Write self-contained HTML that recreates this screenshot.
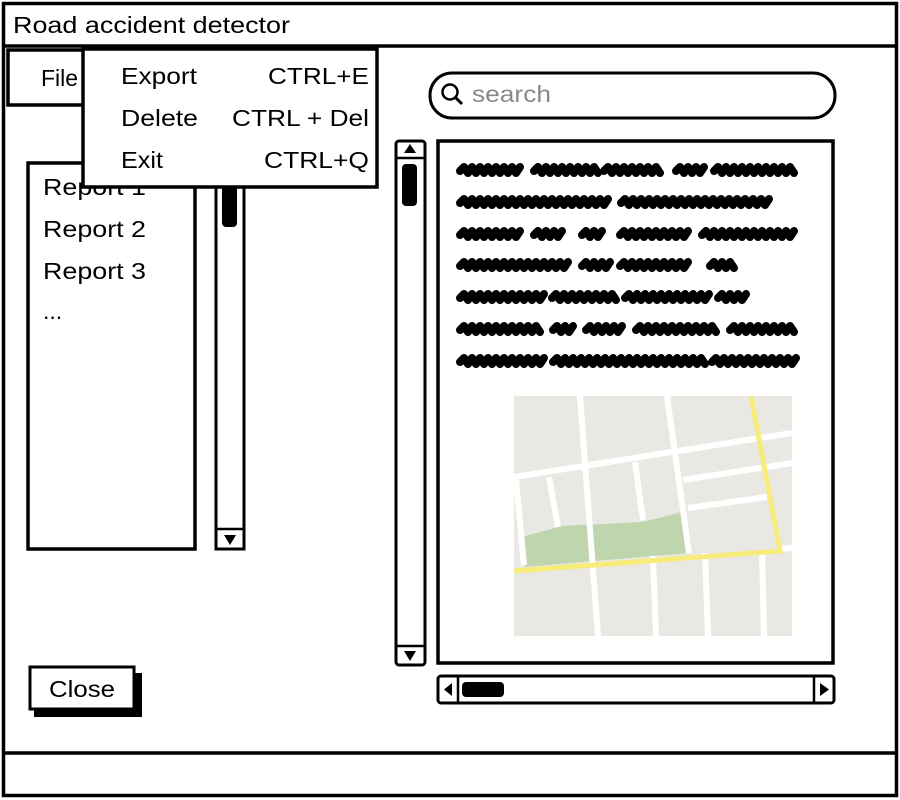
<!DOCTYPE html>
<html><head><meta charset="utf-8"><style>
html,body{margin:0;padding:0;background:#fff;}
svg{display:block;}
text{font-family:"Liberation Sans",sans-serif;fill:#000;}
</style></head><body>
<svg id="s" width="900" height="800" viewBox="0 0 900 800" xmlns="http://www.w3.org/2000/svg">
<g>
<rect x="3.5" y="3.5" width="893" height="792" fill="#fff" stroke="#000" stroke-width="3.5"/>
<line x1="3" y1="46" x2="897" y2="46" stroke="#000" stroke-width="3.5"/>
<line x1="3" y1="753" x2="897" y2="753" stroke="#000" stroke-width="3.5"/>
<text x="13" y="33" font-size="23" textLength="277" lengthAdjust="spacingAndGlyphs">Road accident detector</text>
</g>
<g>
<rect x="8" y="50" width="82" height="55" fill="#fff" stroke="#000" stroke-width="3.5"/>
<text x="41" y="86" font-size="23">File</text>
</g>
<g>
<rect x="28" y="163" width="167" height="386" fill="#fff" stroke="#000" stroke-width="3.5"/>
<text x="43" y="195" font-size="23" textLength="103" lengthAdjust="spacingAndGlyphs">Report 1</text>
<text x="43" y="237" font-size="23" textLength="103" lengthAdjust="spacingAndGlyphs">Report 2</text>
<text x="43" y="279" font-size="23" textLength="103" lengthAdjust="spacingAndGlyphs">Report 3</text>
<text x="43" y="319" font-size="23">...</text>
</g>
<g>
<rect x="216" y="163" width="28" height="386" fill="#fff" stroke="#000" stroke-width="3"/>
<rect x="222" y="185" width="15" height="42" rx="4" fill="#000"/>
<line x1="216" y1="529" x2="244" y2="529" stroke="#000" stroke-width="2.5"/>
<polygon points="224,535 236,535 230,545" fill="#000"/>
</g>
<g>
<rect x="83" y="49" width="294" height="138" fill="#fff" stroke="#000" stroke-width="3.5"/>
<text x="121" y="84" font-size="23" textLength="76" lengthAdjust="spacingAndGlyphs">Export</text>
<text x="268" y="84" font-size="23" textLength="101" lengthAdjust="spacingAndGlyphs">CTRL+E</text>
<text x="121" y="126" font-size="23" textLength="77" lengthAdjust="spacingAndGlyphs">Delete</text>
<text x="232" y="126" font-size="23" textLength="137" lengthAdjust="spacingAndGlyphs">CTRL + Del</text>
<text x="121" y="168" font-size="23" textLength="42" lengthAdjust="spacingAndGlyphs">Exit</text>
<text x="264" y="168" font-size="23" textLength="105" lengthAdjust="spacingAndGlyphs">CTRL+Q</text>
</g>
<g>
<rect x="430" y="73" width="405" height="45" rx="22" fill="#fff" stroke="#000" stroke-width="3"/>
<circle cx="450" cy="92" r="7.5" fill="none" stroke="#000" stroke-width="2.5"/>
<line x1="455" y1="97" x2="462" y2="104" stroke="#000" stroke-width="3"/>
<text x="472" y="102" font-size="23" textLength="79" lengthAdjust="spacingAndGlyphs" style="fill:#888">search</text>
</g>
<g>
<rect x="396" y="141" width="29" height="524" rx="3" fill="#fff" stroke="#000" stroke-width="3"/>
<line x1="396" y1="158" x2="425" y2="158" stroke="#000" stroke-width="2.5"/>
<polygon points="404,153 416,153 410,144" fill="#000"/>
<rect x="402" y="164" width="15" height="42" rx="4" fill="#000"/>
<line x1="396" y1="646" x2="425" y2="646" stroke="#000" stroke-width="2.5"/>
<polygon points="404,651 416,651 410,661" fill="#000"/>
</g>
<g>
<rect x="438" y="141" width="395" height="522" fill="#fff" stroke="#000" stroke-width="3.5"/>
<g id="scribbles"></g>
<g>
<rect x="514" y="396" width="278" height="240" fill="#eae8e2"/>
<polygon points="522,537 562,526 643,522 682,512 689,553 525,567" fill="#bed5ad"/>
<g stroke="#fff" stroke-width="6" fill="none">
<line x1="514" y1="477" x2="792" y2="433"/>
<line x1="580" y1="396" x2="598" y2="636"/>
<line x1="667" y1="396" x2="689" y2="553"/>
<line x1="549" y1="477" x2="558" y2="527"/>
<line x1="635" y1="462" x2="643" y2="520"/>
<line x1="683" y1="480" x2="792" y2="463"/>
<line x1="688" y1="508" x2="767" y2="497"/>
<line x1="778" y1="549" x2="792" y2="548"/>
<line x1="653" y1="556" x2="656" y2="636"/>
<line x1="705" y1="553" x2="708" y2="636"/>
<line x1="762" y1="551" x2="764" y2="636"/>
<line x1="516" y1="480" x2="524" y2="565"/>
</g>
<polyline points="514,571 780,551 751,396" fill="none" stroke="#f7ec79" stroke-width="5"/>
</g>
</g>
<g>
<rect x="438" y="676" width="396" height="27" rx="3" fill="#fff" stroke="#000" stroke-width="3"/>
<line x1="458" y1="676" x2="458" y2="703" stroke="#000" stroke-width="2.5"/>
<polygon points="452,683 452,696 444,689.5" fill="#000"/>
<rect x="462" y="682" width="42" height="15" rx="4" fill="#000"/>
<line x1="814" y1="676" x2="814" y2="703" stroke="#000" stroke-width="2.5"/>
<polygon points="820,683 820,696 829,689.5" fill="#000"/>
</g>
<g>
<rect x="34" y="673" width="108" height="44" fill="#000"/>
<rect x="30" y="667" width="104" height="42" fill="#fff" stroke="#000" stroke-width="3"/>
<text x="49" y="697" font-size="23" textLength="66" lengthAdjust="spacingAndGlyphs">Close</text>
</g>
</svg>
<script>
var rows=[170,202,234,265,297,329,361];
var words=[[[460,520],[534,600],[604,660],[676,705],[714,795]],
[[460,608],[621,770]],
[[460,520],[534,565],[582,602],[620,690],[702,797]],
[[460,570],[582,610],[620,690],[710,737]],
[[460,545],[552,618],[625,710],[718,746]],
[[460,540],[553,575],[586,625],[636,718],[730,795]],
[[460,545],[553,705],[712,796]]];
var g=document.getElementById('scribbles');
rows.forEach(function(y,i){words[i].forEach(function(w){
 var d='M'+w[0]+','+(y+1);var k=0;
 for(var x=w[0]+4;x<=w[1];x+=4){k++;d+=' L'+x+','+(y+(k%2?-3:3));}
 var p=document.createElementNS('http://www.w3.org/2000/svg','path');
 p.setAttribute('d',d);p.setAttribute('stroke','#000');p.setAttribute('stroke-width','8');
 p.setAttribute('fill','none');p.setAttribute('stroke-linecap','round');p.setAttribute('stroke-linejoin','round');
 
 
 g.appendChild(p);});});
</script>
</body></html>
